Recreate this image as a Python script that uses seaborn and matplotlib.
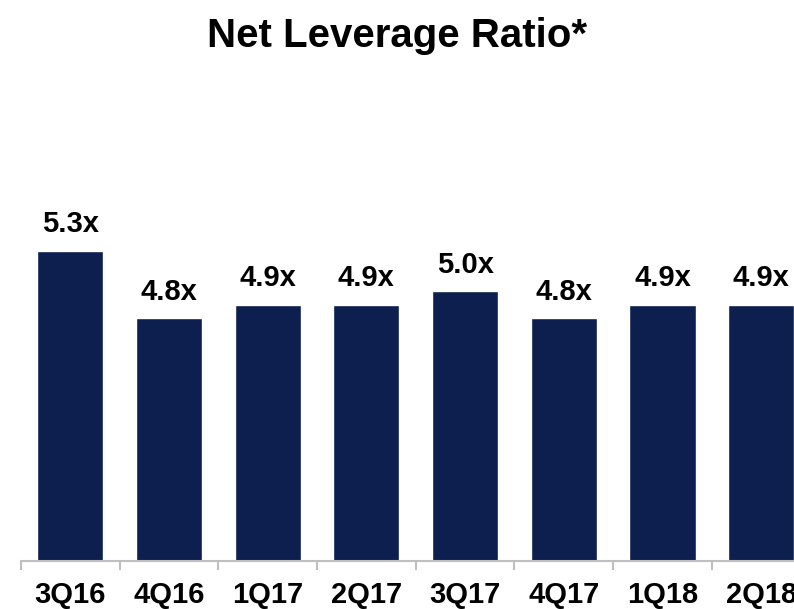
import numpy as np
import pandas as pd
import matplotlib
matplotlib.use('Agg')
import matplotlib.pyplot as plt
import seaborn as sns

# Datos
quarters = ['3Q16', '4Q16', '1Q17', '2Q17', '3Q17', '4Q17', '1Q18', '2Q18']
leverage = [5.3, 4.8, 4.9, 4.9, 5.0, 4.8, 4.9, 4.9]
value_labels = ['5.3x', '4.8x', '4.9x', '4.9x', '5.0x', '4.8x', '4.9x', '4.9x']

df = pd.DataFrame({'quarter': quarters, 'leverage': leverage})

sns.set_style('white')
plt.rcParams['font.family'] = ['Liberation Sans', 'DejaVu Sans']
plt.rcParams['text.color'] = 'black'
plt.rcParams['xtick.color'] = 'black'

fig = plt.figure(figsize=(7.94, 6.09), dpi=100)
ax = fig.add_axes([0.0264, 0.0785, 0.9945, 0.665])

sns.barplot(data=df, x='quarter', y='leverage', color='#0C1F4E',
            saturation=1, width=0.67, ax=ax)

ax.set_ylim(3, 6)
ax.set_xlim(-0.5, len(quarters) - 0.5)

# Etiquetas de valor
ax.bar_label(ax.containers[0], labels=value_labels, padding=9,
             fontsize=21, fontweight='bold', color='black')

# Ejes
for s in ['top', 'right', 'left']:
    ax.spines[s].set_visible(False)
ax.spines['bottom'].set_color('#BFBFBF')
ax.spines['bottom'].set_linewidth(1.5)
ax.set_yticks([])
ax.set_xlabel('')
ax.set_ylabel('')

ax.set_xticks(np.arange(-0.5, len(quarters)), minor=True)
ax.tick_params(axis='x', which='minor', direction='out', length=6.5,
               width=1.5, color='#BFBFBF', bottom=True)
ax.tick_params(axis='x', which='major', length=0, pad=14,
               labelsize=21, labelcolor='black')
for lbl in ax.get_xticklabels():
    lbl.set_fontweight('bold')

fig.suptitle('Net Leverage Ratio*', x=0.5, y=0.972, fontsize=29,
             fontweight='bold', va='top', color='black')

fig.savefig('out.png', dpi=100)
